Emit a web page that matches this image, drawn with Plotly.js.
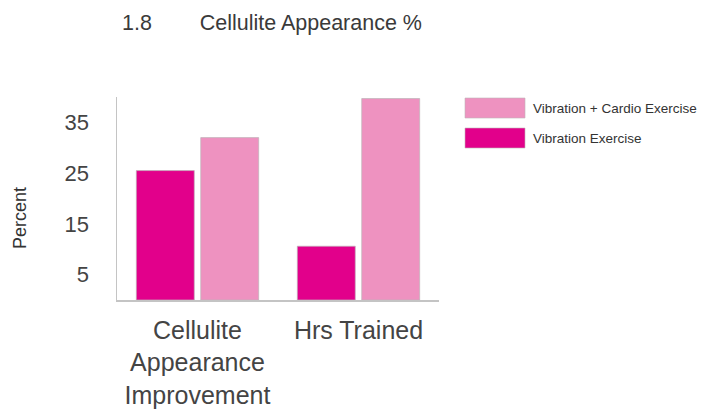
<!DOCTYPE html>
<html>
<head>
<meta charset="utf-8">
<script src="https://cdn.plot.ly/plotly-3.0.1.min.js"></script>
<style>html,body{margin:0;padding:0;background:#fff;}#chart{width:701px;height:414px;}</style>
</head>
<body>
<div id="chart"></div>
<script>
// ---- data ----
var categories = ["Cellulite<br>Appearance<br>Improvement", "Hrs Trained"];
var seriesNames = ["Vibration Exercise", "Vibration + Cardio Exercise"];
var vibrationExercise = [25.5, 10.6];
var vibrationCardio = [32.0, 39.7];
var seriesColors = ["#E2008B", "#EE92C0"];
var yTickVals = [5, 15, 25, 35];
var yTickText = ["5", "15", "25", "35"];
var chartNumber = "1.8";
var chartTitle = "Cellulite Appearance %";
var yTitle = "Percent";

// ---- layout geometry ----
var W = 701, H = 414;
var M = {l: 117, r: 262, t: 97, b: 114};
var PW = W - M.l - M.r, PH = H - M.t - M.b;
function px2x(px) { return (px - M.l) / PW; }
function py2y(py) { return (H - M.b - py) / PH; }

var font = "Liberation Sans, Arial, Helvetica, sans-serif";

var traces = [
  {type: "bar", name: seriesNames[0], x: categories, y: vibrationExercise,
   marker: {color: seriesColors[0], line: {color: "rgba(190,180,185,0.7)", width: 1}},
   showlegend: false, hoverinfo: "y"},
  {type: "bar", name: seriesNames[1], x: categories, y: vibrationCardio,
   marker: {color: seriesColors[1], line: {color: "rgba(190,180,185,0.7)", width: 1}},
   showlegend: false, hoverinfo: "y"}
];

// custom legend (wide swatches), listed in reverse order like the reference
var legendOrder = [1, 0];
var shapes = [], annotations = [];
legendOrder.forEach(function (si, k) {
  var top = 98 + k * 30;
  shapes.push({type: "rect", xref: "paper", yref: "paper",
    x0: px2x(465), x1: px2x(525), y0: py2y(top + 20), y1: py2y(top),
    fillcolor: seriesColors[si], line: {color: "rgba(190,180,185,0.6)", width: 1}});
  annotations.push({xref: "paper", yref: "paper", x: px2x(531), y: py2y(top + 10),
    xanchor: "left", yanchor: "middle", showarrow: false, text: seriesNames[si],
    font: {family: font, size: 13.5, color: "#333"}});
});
annotations.push({xref: "paper", yref: "paper", x: px2x(20), y: py2y(218),
  xanchor: "center", yanchor: "middle", showarrow: false, textangle: -90,
  text: yTitle, font: {family: font, size: 18, color: "#333"}});

var layout = {
  width: W, height: H,
  margin: M,
  paper_bgcolor: "#fff", plot_bgcolor: "#fff",
  title: {text: chartNumber + "\u00a0\u00a0\u00a0\u00a0\u00a0\u00a0\u00a0\u00a0" + chartTitle,
    xref: "container", yref: "container", x: 122 / W, xanchor: "left",
    y: 1 - 22 / H, yanchor: "middle",
    font: {family: font, size: 21.5, color: "#3a3a3a"}},
  barmode: "group", bargap: 0.2, bargroupgap: 0.1,
  xaxis: {showgrid: false, zeroline: false, showline: true, linecolor: "#c4c4c4", linewidth: 1.5,
    ticks: "", ticklabelstandoff: 7, tickfont: {family: font, size: 25, color: "#444"},
    fixedrange: true},
  yaxis: {range: [0, 40], showgrid: false, zeroline: false, showline: true, linecolor: "#c4c4c4",
    linewidth: 1.5, ticks: "", tickvals: yTickVals, ticktext: yTickText, ticklabelstandoff: 22,
    tickfont: {family: font, size: 22, color: "#444"}, fixedrange: true},
  shapes: shapes,
  annotations: annotations,
  showlegend: false
};

Plotly.newPlot("chart", traces, layout, {displayModeBar: false, staticPlot: true});
</script>
</body>
</html>
